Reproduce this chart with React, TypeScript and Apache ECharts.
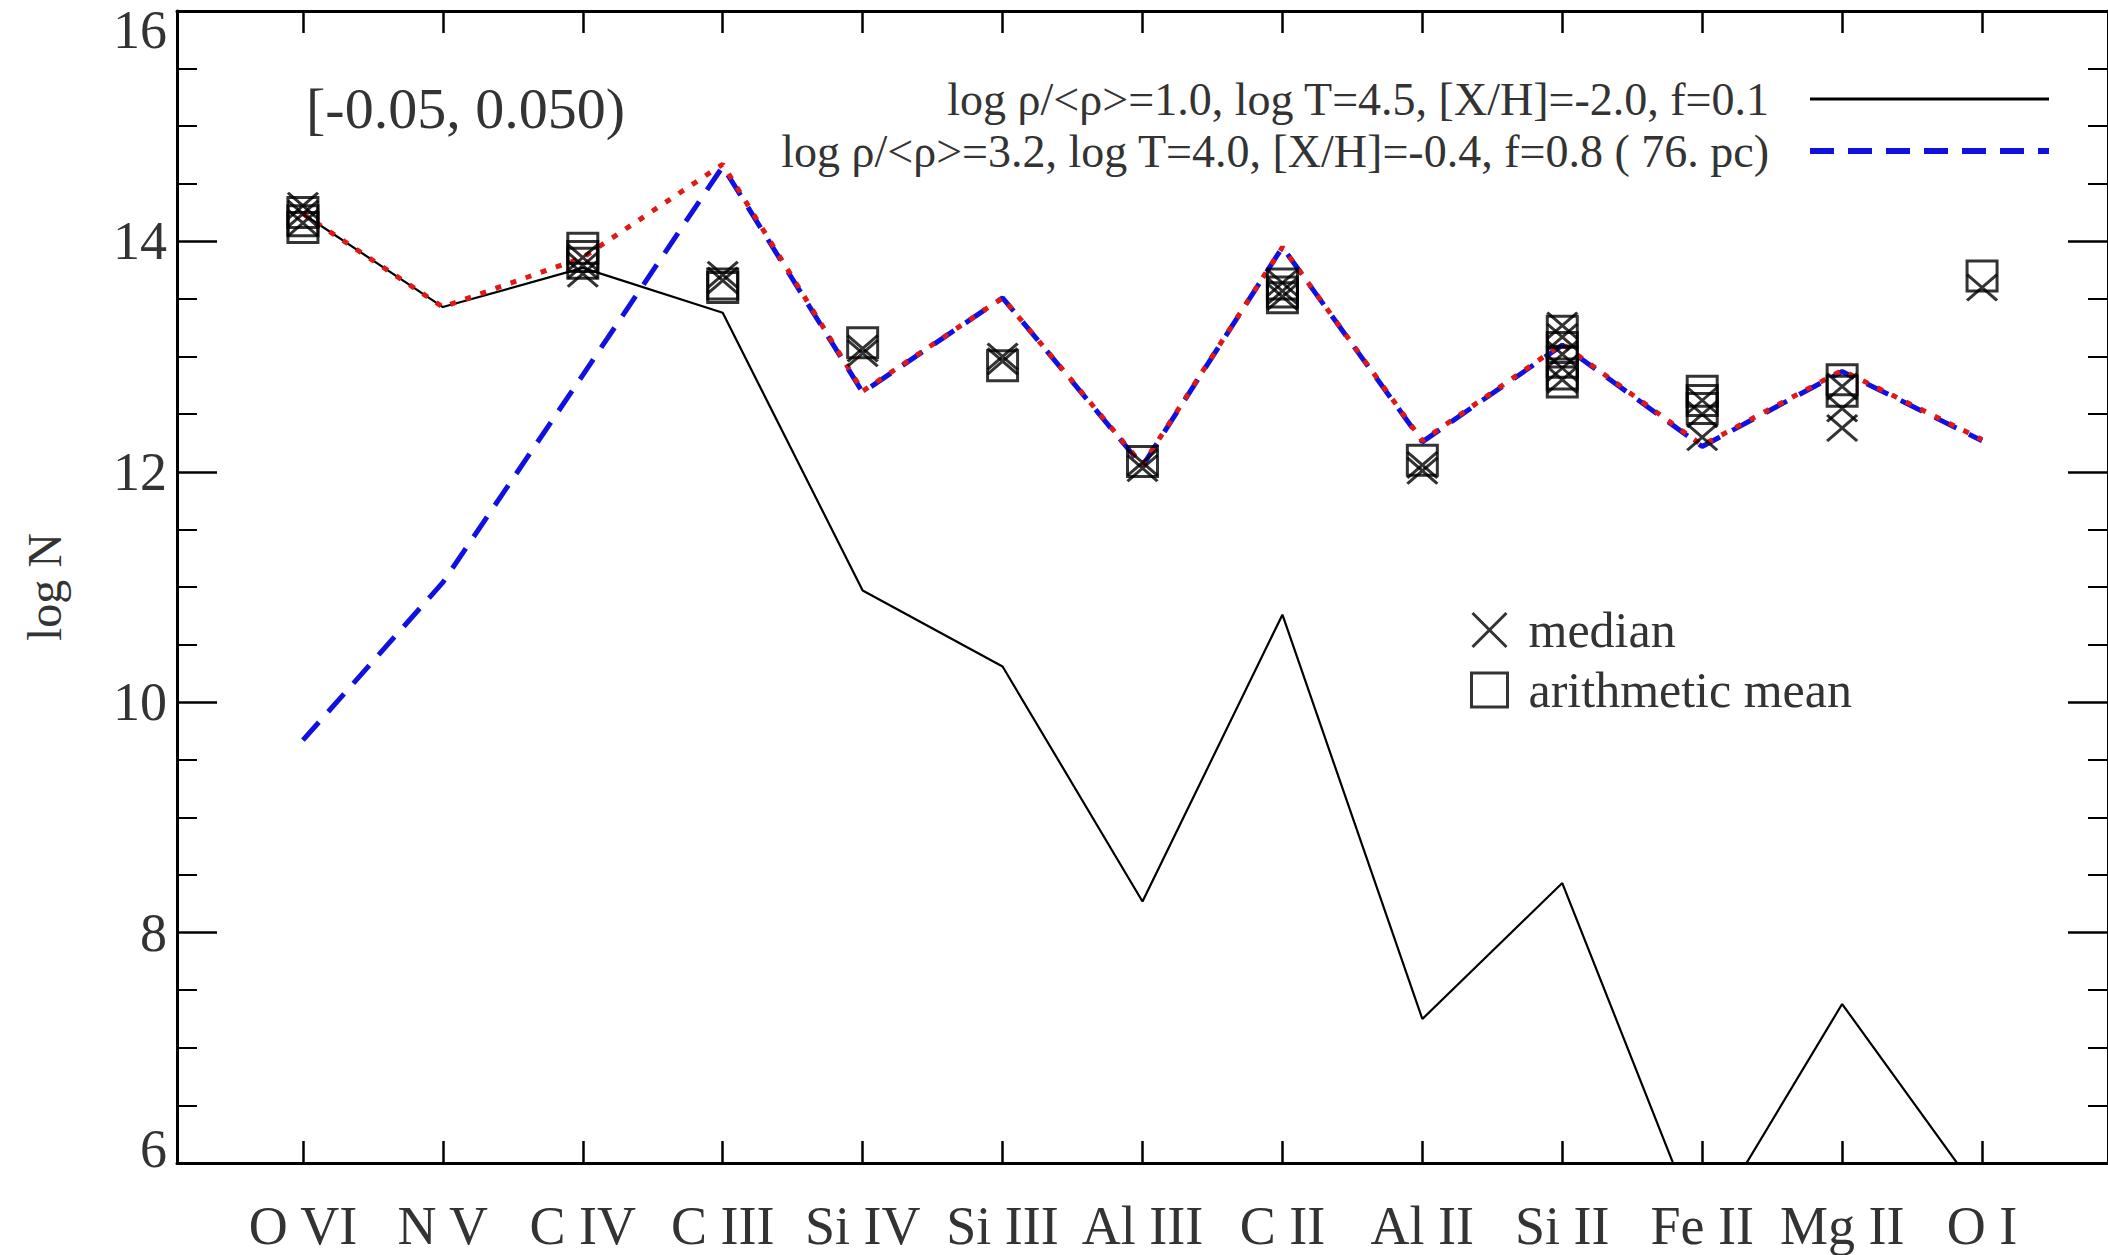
import React, { useEffect, useRef } from "react";
import * as echarts from "echarts";

// ---------- data ----------
const categories = ["O VI", "N V", "C IV", "C III", "Si IV", "Si III", "Al III", "C II", "Al II", "Si II", "Fe II", "Mg II", "O I"];
const categoryIndex = [0, 1, 2, 3, 4, 5, 6, 7, 8, 9, 10, 11, 12];

// model 1 (black solid)
const modelLow = [14.24, 13.43, 13.77, 13.38, 10.97, 10.31, 8.27, 10.76, 7.25, 8.43, 5.36, 7.38, 5.70];
// model 2 (blue dashed)
const modelHigh = [9.67, 11.04, 12.84, 14.65, 12.69, 13.51, 12.05, 13.95, 12.26, 13.10, 12.22, 12.87, 12.27];
// combined (red dotted)
const modelTotal = [14.24, 13.43, 13.86, 14.67, 12.70, 13.51, 12.06, 13.95, 12.27, 13.11, 12.23, 12.88, 12.28];

// observed medians (x) per category
const medianValues = [
  [14.31, 14.24, 14.16],
  [],
  [13.86, 13.79, 13.72],
  [13.71, 13.66],
  [13.03, 13.07],
  [13.0, 12.96],
  [12.03, 12.08],
  [13.64, 13.57, 13.52],
  [12.01, 12.06],
  [13.27, 13.17, 13.02, 12.9, 12.8],
  [12.62, 12.5, 12.3],
  [12.74, 12.55, 12.38],
  [13.6],
];
// observed arithmetic means (squares) per category
const meanValues = [
  [14.25, 14.18, 14.12],
  [],
  [13.94, 13.87, 13.81],
  [13.6, 13.63],
  [13.12],
  [12.92],
  [12.09],
  [13.63, 13.56, 13.51],
  [12.1],
  [13.22, 13.08, 12.95, 12.85, 12.78],
  [12.7, 12.62, 12.55],
  [12.8, 12.7],
  [13.7],
];

const nameLow = "log ρ/<ρ>=1.0, log T=4.5, [X/H]=-2.0, f=0.1";
const nameHigh = "log ρ/<ρ>=3.2, log T=4.0, [X/H]=-0.4, f=0.8 ( 76. pc)";
const nameTotal = "total";
const nameMedian = "median";
const nameMean = "arithmetic mean";
const binLabel = "[-0.05, 0.050)";
const yAxisTitle = "log N";

const FONT = '"Liberation Serif", "Times New Roman", serif';
const TXT = "#333";

export default function App() {
  const ref = useRef<HTMLDivElement>(null);

  useEffect(() => {
    if (!ref.current) return;
    const chart = echarts.init(ref.current, undefined, { renderer: "svg" });

    const toPairs = (arr: number[]) => arr.map((v, i) => [categoryIndex[i], v]);
    const toCloud = (lists: number[][]) =>
      lists.flatMap((list, i) => list.map((v) => [categoryIndex[i], v]));

    const xCommon = {
      type: "value" as const,
      min: -0.9,
      max: 12.9,
      splitLine: { show: false },
      axisLine: { show: true, onZero: false, lineStyle: { color: "#000", width: 3 } },
      axisTick: {
        show: true,
        inside: true,
        length: 22,
        customValues: categoryIndex,
        lineStyle: { color: "#000", width: 2.5 },
      },
    };

    const yCommon = {
      type: "value" as const,
      min: 6,
      max: 16,
      interval: 2,
      splitLine: { show: false },
      axisLine: { show: true, onZero: false, lineStyle: { color: "#000", width: 3 } },
      axisTick: { show: true, inside: true, length: 40, lineStyle: { color: "#000", width: 2.5 } },
      minorTick: { show: true, splitNumber: 4, length: 20, lineStyle: { color: "#000", width: 2 } },
      minorSplitLine: { show: false },
    };

    const option: any = {
      animation: false,
      backgroundColor: "#fff",
      title: {
        text: binLabel,
        left: 306,
        top: 75,
        padding: 0,
        textStyle: { fontSize: 58, fontWeight: "normal", fontFamily: FONT, color: TXT, lineHeight: 66 },
      },
      grid: { left: 177, top: 11, width: 1941, height: 1152 },
      legend: [
        {
          data: [
            { name: nameLow, lineStyle: { width: 3 } },
            { name: nameHigh, lineStyle: { width: 6 } },
          ],
          orient: "vertical",
          align: "right",
          right: 51,
          top: 68,
          itemWidth: 239,
          itemHeight: 14,
          itemGap: 0,
          selectedMode: false,
          itemStyle: { opacity: 0 },
          textStyle: { fontSize: 46, fontFamily: FONT, color: TXT, lineHeight: 52, padding: [0, 36, 0, 0] },
        },
        {
          data: [nameMedian, nameMean],
          orient: "vertical",
          align: "left",
          left: 1465,
          top: 595,
          itemWidth: 36,
          itemHeight: 34,
          itemGap: 0,
          selectedMode: false,
          itemStyle: { color: "rgba(0,0,0,0)", borderColor: "#000", borderWidth: 3 },
          textStyle: { fontSize: 50, fontFamily: FONT, color: TXT, lineHeight: 60, padding: [0, 0, 0, 16] },
        },
      ],
      xAxis: [
        {
          ...xCommon,
          position: "bottom",
          axisLabel: {
            show: true,
            customValues: categoryIndex,
            formatter: (v: number) => categories[Math.round(v)] ?? "",
            margin: 36,
            fontSize: 54,
            fontFamily: FONT,
            color: TXT,
          },
        },
        { ...xCommon, position: "top", axisLabel: { show: false } },
      ],
      yAxis: [
        {
          ...yCommon,
          position: "left",
          name: yAxisTitle,
          nameLocation: "middle",
          nameGap: 109,
          nameRotate: 90,
          nameTextStyle: { fontSize: 48, fontFamily: FONT, color: TXT },
          axisLabel: {
            show: true,
            margin: 10,
            fontSize: 54,
            fontFamily: FONT,
            color: TXT,
            formatter: (v: number) => (v === 16 ? `{top|${v}}` : v === 6 ? `{bot|${v}}` : `${v}`),
            rich: {
              top: { padding: [38, 0, 0, 0], fontSize: 54, fontFamily: FONT, color: TXT },
              bot: { padding: [0, 0, 28, 0], fontSize: 54, fontFamily: FONT, color: TXT },
            },
          },
        },
        { ...yCommon, position: "right", axisLabel: { show: false } },
      ],
      series: [
        {
          type: "line",
          name: nameLow,
          data: toPairs(modelLow),
          symbol: "none",
          clip: true,
          z: 2,
          itemStyle: { color: "#000" },
          lineStyle: { color: "#000", width: 2.2 },
        },
        {
          type: "line",
          name: nameHigh,
          data: toPairs(modelHigh),
          symbol: "none",
          clip: true,
          z: 3,
          itemStyle: { color: "#1010e0" },
          lineStyle: { color: "#1010e0", width: 5, type: [24, 14] },
        },
        {
          type: "line",
          name: nameTotal,
          data: toPairs(modelTotal),
          symbol: "none",
          clip: true,
          z: 4,
          itemStyle: { color: "#e01818" },
          lineStyle: { color: "#e01818", width: 5, type: [6, 10] },
        },
        {
          type: "scatter",
          name: nameMean,
          data: toCloud(meanValues),
          symbol: "rect",
          symbolSize: [30, 30],
          z: 5,
          itemStyle: { color: "rgba(0,0,0,0)", borderColor: "#000", borderWidth: 3 },
        },
        {
          type: "scatter",
          name: nameMedian,
          data: toCloud(medianValues),
          symbol: "path://M0,0L10,10M10,0L0,10",
          symbolSize: [30, 26],
          z: 6,
          itemStyle: { color: "rgba(0,0,0,0)", borderColor: "#000", borderWidth: 3 },
        },
      ],
    };

    chart.setOption(option);
    return () => chart.dispose();
  }, []);

  return (
    <div
      ref={ref}
      style={{ position: "fixed", left: 0, top: 0, width: 2108, height: 1255, background: "#fff" }}
    />
  );
}
